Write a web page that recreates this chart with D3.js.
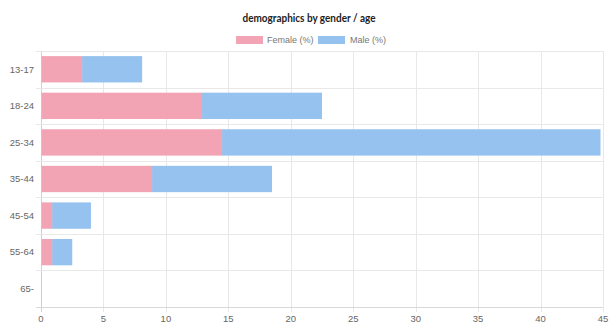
<!DOCTYPE html>
<html><head><meta charset="utf-8">
<script src="https://cdn.jsdelivr.net/npm/d3@7/dist/d3.min.js"></script>
<style>body{margin:0;background:#fff}svg{display:block}</style>
</head><body>
<svg id="c" width="615" height="328"></svg>
<script>
const categories = ["13-17","18-24","25-34","35-44","45-54","55-64","65-"];
const female = [3.3, 12.9, 14.5, 8.9, 0.9, 0.9, 0];
const male = [4.8, 9.6, 30.3, 9.6, 3.1, 1.6, 0];
const xTicks = [0,5,10,15,20,25,30,35,40,45];
const seriesNames = ["Female (%)","Male (%)"];
const colors = ["#f2a3b4","#95c2ee"];

const svg = d3.select("#c");
const W = 615, H = 328;
const m = {left:41, right:12, top:51, bottom:21};
const x = d3.scaleLinear().domain([0,45]).range([m.left, W-m.right]);
const y = d3.scaleBand().domain(categories).range([m.top, H-m.bottom]);

// grid
const g = svg.append("g");
g.selectAll(".vg").data(xTicks).join("line")
  .attr("x1", d=>Math.round(x(d))+0.5).attr("x2", d=>Math.round(x(d))+0.5)
  .attr("y1", m.top).attr("y2", H-m.bottom+5)
  .attr("stroke", d=>d===0?"#d0d0d0":"#e8e8e8").attr("stroke-width",1);
const bounds = categories.map(c=>y(c)).concat([y.range()[1]]);
g.selectAll(".hg").data(bounds).join("line")
  .attr("x1", m.left-5).attr("x2", W-m.right)
  .attr("y1", d=>Math.round(d)+0.5).attr("y2", d=>Math.round(d)+0.5)
  .attr("stroke", (d,i)=>i===bounds.length-1?"#d8d8d8":"#e8e8e8").attr("stroke-width",1);

// bars
const inner = y.bandwidth()*0.72;
const off = (y.bandwidth()-inner)/2;
const stackData = categories.map((c,i)=>({cat:c, f:female[i], m:male[i]}));
svg.append("g").selectAll("rect").data(stackData).join("rect")
  .attr("x", x(0)+0.5).attr("y", d=>y(d.cat)+off)
  .attr("width", d=>x(d.f)-x(0)).attr("height", inner)
  .attr("fill", colors[0]);
svg.append("g").selectAll("rect").data(stackData).join("rect")
  .attr("x", d=>x(d.f)).attr("y", d=>y(d.cat)+off)
  .attr("width", d=>x(d.f+d.m)-x(d.f)).attr("height", inner)
  .attr("fill", colors[1]);

// axes labels
const font = "'Liberation Sans', Arial, sans-serif";
svg.append("g").selectAll("text").data(categories).join("text")
  .attr("x", 34).attr("y", d=>y(d)+y.bandwidth()/2)
  .attr("dy","0.35em").attr("text-anchor","end")
  .attr("font-family",font).attr("font-size",9.5).attr("fill","#666")
  .text(d=>d);
svg.append("g").selectAll("text").data(xTicks).join("text")
  .attr("x", d=>x(d)).attr("y", 322)
  .attr("text-anchor","middle")
  .attr("font-family",font).attr("font-size",9.5).attr("fill","#666")
  .text(d=>d);

// title
svg.append("text").attr("x",309).attr("y",22).attr("text-anchor","middle")
  .attr("font-family","Lato, sans-serif").attr("font-weight","bold")
  .attr("font-size",11).attr("fill","#222")
  .attr("textLength",133).attr("lengthAdjust","spacingAndGlyphs")
  .text("demographics by gender / age");

// legend
const leg = [{x:236, tx:267},{x:318, tx:350}];
seriesNames.forEach((n,i)=>{
  svg.append("rect").attr("x",leg[i].x).attr("y",36).attr("width",27).attr("height",8)
    .attr("fill",colors[i]);
  svg.append("text").attr("x",leg[i].tx).attr("y",40).attr("dy","0.35em")
    .attr("font-family",font).attr("font-size",9).attr("fill","#777").text(n);
});
</script>
</body></html>
